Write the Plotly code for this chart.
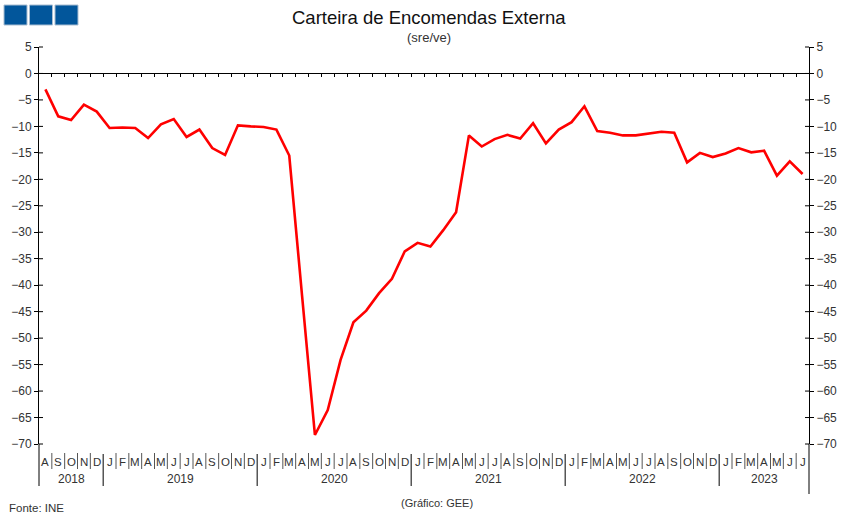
import plotly.graph_objects as go

# ---- data ----
month_letters = ["J", "F", "M", "A", "M", "J", "J", "A", "S", "O", "N", "D"]
start_year = 2018
start_month = 8  # August
values = [
    -3.0, -8.1, -8.8, -5.9, -7.2,
    -10.3, -10.2, -10.3, -12.2, -9.6, -8.6, -12.0, -10.6, -14.1, -15.4, -9.8, -10.0,
    -10.1, -10.6, -15.5, -42.0, -68.3, -63.6, -54.1, -47.0, -44.8, -41.5, -38.8, -33.6,
    -32.0, -32.7, -29.6, -26.2, -11.7, -13.8, -12.4, -11.6, -12.3, -9.4, -13.2, -10.6,
    -9.2, -6.2, -10.9, -11.2, -11.7, -11.7, -11.4, -11.0, -11.2, -16.8, -15.0, -15.8,
    -15.1, -14.1, -14.9, -14.6, -19.3, -16.6, -19.0,
]
y_ticks = list(range(-70, 10, 5))
y_min, y_max = -70, 5

n = len(values)
xs = list(range(n))
months = [(start_month - 1 + i) % 12 for i in range(n)]
years = [start_year + (start_month - 1 + i) // 12 for i in range(n)]

W, H = 851, 521
ML, MR, MT, MB = 39, 42, 47, 77
PW, PH = W - ML - MR, H - MT - MB


def px_x(p):
    return (p - ML) / PW


def px_y(p):
    return (H - MB - p) / PH


txt = "#333333"
font = "Liberation Sans, Arial, sans-serif"

fig = go.Figure()
fig.add_trace(go.Scatter(x=xs, y=values, mode="lines",
                         line=dict(color="#ff0000", width=2.6),
                         showlegend=False, hoverinfo="x+y"))
fig.add_trace(go.Scatter(x=xs, y=values, mode="lines", yaxis="y2",
                         line=dict(color="rgba(0,0,0,0)", width=0),
                         showlegend=False, hoverinfo="skip"))

shapes = []
annotations = []

# y tick inner halves (ticks cross the axis lines)
for v in y_ticks:
    yp = (v - y_min) / (y_max - y_min)
    shapes.append(dict(type="line", xref="paper", yref="paper", x0=0, x1=4 / PW,
                       y0=yp, y1=yp, line=dict(color="black", width=1)))
    shapes.append(dict(type="line", xref="paper", yref="paper", x0=1 - 4 / PW, x1=1,
                       y0=yp, y1=yp, line=dict(color="black", width=1)))

# axis line extensions below plot
shapes.append(dict(type="line", xref="paper", yref="paper", x0=0, x1=0,
                   y0=0, y1=px_y(486), line=dict(color="black", width=1)))
shapes.append(dict(type="line", xref="paper", yref="paper", x0=1, x1=1,
                   y0=0, y1=px_y(494), line=dict(color="black", width=1)))

# month separators & labels
for i in range(n):
    annotations.append(dict(x=xs[i], y=px_y(462), xref="x", yref="paper",
                            text=month_letters[months[i]], showarrow=False,
                            font=dict(size=11.5, color=txt, family=font),
                            xanchor="center", yanchor="middle"))
    if i > 0:
        if months[i] == 0:
            shapes.append(dict(type="line", xref="x", yref="paper", x0=i - 0.5, x1=i - 0.5,
                               y0=px_y(454), y1=px_y(486), line=dict(color="black", width=1)))
        else:
            shapes.append(dict(type="line", xref="x", yref="paper", x0=i - 0.5, x1=i - 0.5,
                               y0=px_y(453), y1=px_y(469), line=dict(color="#555555", width=1)))

# year labels
for yr in sorted(set(years)):
    idx = [i for i in range(n) if years[i] == yr]
    annotations.append(dict(x=(idx[0] + idx[-1]) / 2, y=px_y(479), xref="x", yref="paper",
                            text=str(yr), showarrow=False,
                            font=dict(size=12, color=txt, family=font),
                            xanchor="center", yanchor="middle"))

# blue squares logo
for k in range(3):
    x0 = 4 + k * 25.5
    shapes.append(dict(type="rect", xref="paper", yref="paper",
                       x0=px_x(x0), x1=px_x(x0 + 23), y0=px_y(5), y1=px_y(25),
                       fillcolor="#02569b", line=dict(color="#a9bdd1", width=1)))

annotations += [
    dict(x=px_x(429), y=px_y(18), xref="paper", yref="paper", text="Carteira de Encomendas Externa",
         showarrow=False, font=dict(size=18.5, color="#111111", family=font),
         xanchor="center", yanchor="middle"),
    dict(x=px_x(429), y=px_y(37), xref="paper", yref="paper", text="(sre/ve)",
         showarrow=False, font=dict(size=13, color=txt, family=font),
         xanchor="center", yanchor="middle"),
    dict(x=px_x(7), y=px_y(508), xref="paper", yref="paper", text="Fonte: INE",
         showarrow=False, font=dict(size=11.5, color=txt, family=font),
         xanchor="left", yanchor="middle"),
    dict(x=px_x(437), y=px_y(503), xref="paper", yref="paper", text="(Gráfico: GEE)",
         showarrow=False, font=dict(size=11, color=txt, family=font),
         xanchor="center", yanchor="middle"),
]

fig.update_layout(
    width=W, height=H,
    margin=dict(l=ML, r=MR, t=MT, b=MB, pad=0),
    paper_bgcolor="white", plot_bgcolor="white",
    showlegend=False,
    font=dict(family=font, color=txt, size=12),
    xaxis=dict(range=[-0.5, n - 0.5], anchor="free",
               position=(0 - y_min) / (y_max - y_min),
               showline=True, linecolor="black", linewidth=1,
               ticks="outside", ticklen=3, tickcolor="black",
               tickvals=[i + 0.5 for i in range(n - 1)],
               showticklabels=False, showgrid=False, zeroline=False),
    yaxis=dict(range=[y_min, y_max], tickvals=y_ticks, side="left",
               showline=True, linecolor="black", linewidth=1,
               ticks="outside", ticklen=4, tickcolor="black",
               showgrid=False, zeroline=False,
               tickfont=dict(size=12, color=txt, family=font)),
    yaxis2=dict(range=[y_min, y_max], tickvals=y_ticks, side="right",
                overlaying="y", anchor="x",
                showline=True, linecolor="black", linewidth=1,
                ticks="outside", ticklen=4, tickcolor="black",
                showgrid=False, zeroline=False,
                tickfont=dict(size=12, color=txt, family=font)),
    shapes=shapes, annotations=annotations,
)

fig.write_html("out.html",
               config={"displayModeBar": False},
               post_script="document.body.style.margin='0';document.body.style.padding='0';")
